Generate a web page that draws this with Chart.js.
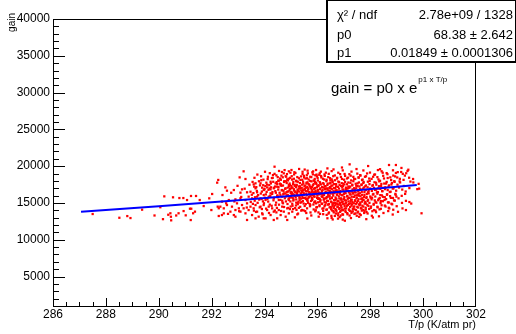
<!DOCTYPE html>
<html>
<head>
<meta charset="utf-8">
<script src="https://cdn.jsdelivr.net/npm/chart.js@4.4.1/dist/chart.umd.min.js"></script>
<style>
  body { margin: 0; background: #fff; }
  canvas { display: block; }
</style>
</head>
<body>
<canvas id="gainChart" width="516" height="334"></canvas>
<script>
// axis tick labels
const xTicks = [286, 288, 290, 292, 294, 296, 298, 300, 302];
const yTicks = [5000, 10000, 15000, 20000, 25000, 30000, 35000, 40000];

// fit result (stats box)
const statsLabels = ['χ² / ndf', 'p0', 'p1'];
const statsValues = ['2.78e+09 / 1328', '68.38 ± 2.642', '0.01849 ± 0.0001306'];

// fitted curve
const fitTp   = [287.06, 290.0, 293.0, 296.0, 299.76];
const fitGain = [13800, 14560, 15380, 16260, 17450];

const sparsePoints = [
  [287.50,13500],[288.51,12990],[288.81,13220],[288.93,12950],[289.37,14090],[289.84,13300],
  [290.06,14420],[290.16,12800],[290.21,15900],[290.36,13400],[290.44,13600],[290.46,13130],
  [290.47,12640],[290.54,15770],[290.66,13300],[290.75,13600],[290.78,15670],[290.93,15670],
  [290.94,13900],[291.02,13320],[291.07,15400],[291.18,14220],[291.21,12680],[291.22,15950],
  [291.23,14220],[291.30,13600],[291.37,13820],[291.41,15950],[291.55,15400],[291.70,14580],
  [291.91,15630],[291.99,14040],[292.02,16220],[292.21,17760],[292.25,18130],[292.23,14500],
  [292.27,14280],[292.27,13230]
];

const midPoints = [
  [294.38,19930],[293.21,19300],[294.92,19300],[293.06,18480],[293.28,18260],[294.73,19030],
  [294.64,18710],[294.82,18570],[294.86,18210],[294.54,18030],[294.42,17670],[294.23,17890],
  [294.10,17490],[293.85,17670],[293.66,17670],[293.59,17530],[292.52,17120],[292.84,16760],
  [292.58,16670],[293.15,16850],[293.09,16400],[293.34,16450],[293.47,16530],[293.66,16990],
  [293.72,16450],[293.91,17080],[293.97,16760],[294.10,17120],[294.23,16850],[294.35,16990],
  [294.48,17210],[294.61,17440],[294.67,16760],[294.80,16990],[294.86,16530],[294.92,17440],
  [292.39,15180],[292.65,15400],[292.90,15490],[293.09,15630],[293.28,15400],[293.40,15860],
  [293.53,15630],[293.72,15860],[293.85,15630],[293.97,16080],[294.04,15400],[294.16,15860],
  [294.23,16310],[294.35,15630],[294.48,15950],[294.54,15400],[294.67,15860],[294.73,16310],
  [294.86,16080],[294.92,15400],[292.33,14500],[292.46,14270],[292.58,14720],[292.71,13820],
  [292.77,14500],[292.84,13360],[292.90,14040],[292.96,14950],[293.03,14270],[293.09,13820],
  [293.15,14720],[293.21,14270],[293.28,13590],[293.34,14950],[293.40,14040],[293.47,14500],
  [293.53,13360],[293.59,14270],[293.66,14720],[293.72,13820],[293.78,13140],[293.85,14500],
  [293.91,13590],[293.97,14720],[294.04,12910],[294.10,14040],[294.16,14500],[294.23,13360],
  [294.29,14270],[294.35,13820],[294.42,14720],[294.48,12910],[294.54,14040],[294.61,13360],
  [294.67,14500],[294.73,13820],[294.80,13140],[294.86,14270],[294.92,13590],[292.39,13360],
  [292.46,13590],[292.90,13140],[293.34,12690],[293.66,12910],[293.97,12910],[294.35,12690],
  [294.86,12690],
  [292.41,16080],[292.55,14960],[292.62,13520],[292.74,16390],[292.86,15210],[292.98,17330],
  [293.04,13880],[293.12,15820],[293.25,16940],[293.33,14380],[293.43,17480],[293.48,15140],
  [293.52,16120],[293.56,14880],[293.61,17220],[293.63,15310],[293.68,13780],[293.71,16640],
  [293.74,15020],[293.79,17950],[293.82,14410],[293.86,16280],[293.89,15540],[293.93,13450],
  [293.95,17410],[293.98,14960],[293.99,16820],
  [294.01,15720],[294.03,17310],[294.06,14230],[294.08,16510],[294.12,18240],[294.14,15190],
  [294.17,13640],[294.19,16980],[294.21,15870],[294.24,17660],[294.27,14620],[294.29,16230],
  [294.32,18790],[294.34,15360],[294.37,17080],[294.39,13980],[294.41,16610],[294.44,15050],
  [294.46,17830],[294.47,14330],[294.49,16040],[294.50,18510],
  [294.51,15830],[294.53,17150],[294.55,14770],[294.57,16390],[294.59,18330],[294.60,15420],
  [294.62,17540],[294.63,13910],[294.65,16720],[294.66,19210],[294.68,15060],[294.70,17370],
  [294.71,16180],[294.74,14450],[294.75,17960],[294.77,15640],[294.78,16930],[294.80,18640],
  [294.81,15210],[294.83,16460],[294.84,17710],[294.87,14860],[294.88,16080],[294.89,18060],
  [294.91,15530],[294.93,17240],[294.94,16690],[294.96,14170],[294.97,18420],[294.99,16330],
  [293.55,17860],[293.58,16340],[293.62,18420],[293.64,15780],[293.69,17150],[293.73,18860],
  [293.76,16070],[293.80,15460],[293.83,17390],[293.87,18630],[293.90,16550],[293.94,15220],
  [293.96,18170],[294.00,16930],[294.02,19240],[294.05,16170],[294.07,17760],[294.11,15540],
  [294.13,18560],[294.15,16790],[294.18,17420],[294.20,19050],[294.22,15990],[294.25,17130],
  [294.28,18380],[294.30,16470],[294.33,17880],[294.36,15710],[294.38,18960],[294.40,17240],
  [294.43,16390],[294.45,18750],[294.48,17560],[294.50,15760],[294.52,16820],[294.55,19350],
  [294.58,17630],[294.60,16110],[294.62,18150],[294.64,17330],[294.67,15310],[294.69,18490],
  [294.72,16650],[294.74,17850],[294.76,19470],[294.79,16270],[294.81,17950],[294.83,15890],
  [294.85,18920],[294.88,17090],[294.90,16560],[294.92,18300],[294.94,15670],[294.96,17430],
  [294.98,19110],[293.60,13960],[293.90,14180],[294.20,14780],[294.45,13720],[294.70,14960],
  [294.90,14330]
];

const densePoints = [
  // 19500 - 20300
  [295.02,19480],[295.31,19620],[295.52,19540],[295.95,19480],[296.38,19700],[296.61,19560],
  [296.93,19820],[297.22,20250],[297.48,19610],[297.92,20020],[298.37,19590],[298.71,20160],
  [298.97,20160],[299.18,19760],[299.44,19520],
  // 18800 - 19500
  [295.17,19080],[295.44,18930],[295.63,19390],[295.81,19170],[296.09,19040],[296.27,18880],
  [296.54,19330],[296.79,19110],[297.03,18940],[297.29,19260],[297.51,18990],[297.74,19420],
  [297.99,19130],[298.18,18870],[298.43,19310],[298.62,19060],[298.86,19440],[299.04,19190],
  [299.23,18960],[299.41,19350],[296.96,19430],[295.97,18860],[298.29,19470],
  // 18000 - 18800
  [293.88,18090],[294.31,18410],[294.52,18030],[295.03,18640],[295.11,18290],[295.24,18520],
  [295.36,18140],[295.49,18690],[295.61,18360],[295.73,18560],[295.86,18060],[296.01,18410],
  [296.14,18660],[296.26,18190],[296.41,18510],[296.49,18090],[296.66,18740],[296.74,18310],
  [296.89,18540],[297.01,18160],[297.16,18440],[297.26,18710],[297.39,18240],[297.56,18490],
  [297.69,18110],[297.84,18630],[297.96,18320],[298.11,18560],[298.31,18210],[298.49,18690],
  [298.66,18390],[298.79,18120],[298.94,18610],[299.12,18280],[299.31,18720],[299.47,18430],
  [299.62,18260],[295.92,18770],[296.57,18020],[297.62,18780],
  // 17200 - 18000
  [294.95,17640],[295.02,17310],[295.09,17870],[295.14,17460],[295.21,17930],[295.29,17240],
  [295.34,17710],[295.42,17490],[295.46,17880],[295.54,17360],[295.59,17760],[295.67,17560],
  [295.72,17230],[295.78,17940],[295.83,17410],[295.91,17820],[295.96,17590],[296.04,17290],
  [296.09,17840],[296.13,17510],[296.22,17690],[296.28,17260],[296.34,17960],[296.38,17440],
  [296.47,17660],[296.53,17340],[296.58,17810],[296.63,17560],[296.71,17270],[296.79,17910],
  [296.84,17460],[296.92,17690],[296.97,17310],[297.05,17860],[297.12,17540],[297.17,17240],
  [297.25,17740],[297.32,17390],[297.36,17960],[297.45,17610],[297.52,17290],[297.57,17790],
  [297.67,17440],[297.74,17710],[297.81,17260],[297.91,17890],[297.97,17560],[298.08,17340],
  [298.16,17810],[298.23,17490],[298.34,17940],[298.41,17310],[298.53,17640],[298.62,17860],
  [298.71,17390],[298.82,17720],[298.91,17960],[299.03,17490],[299.13,17790],[299.27,17310],
  [299.52,17910],[299.83,17600],
  // 16400 - 17200
  [294.97,16920],[295.01,16510],[295.06,17080],[295.12,16690],[295.16,16440],[295.19,17150],
  [295.25,16830],[295.31,16560],[295.35,17010],[295.39,16720],[295.44,16460],[295.51,16940],
  [295.56,16620],[295.62,17180],[295.65,16810],[295.69,16480],[295.76,17050],[295.81,16690],
  [295.87,16930],[295.93,16530],[295.98,17120],[296.02,16760],[296.06,16420],[296.11,16980],
  [296.17,16640],[296.23,17090],[296.29,16870],[296.31,16510],[296.36,16990],[296.42,16700],
  [296.48,17160],[296.51,16460],[296.56,16860],[296.61,16590],[296.68,17040],[296.73,16730],
  [296.77,16420],[296.82,16950],[296.87,16610],[296.94,17130],[296.99,16800],[297.03,16490],
  [297.08,16920],[297.14,16660],[297.21,17070],[297.27,16540],[297.33,16850],[297.41,16470],
  [297.47,17000],[297.54,16690],[297.61,16930],[297.68,16520],[297.76,17110],[297.83,16780],
  [297.92,16450],[297.99,16960],[298.06,16640],[298.14,17060],[298.22,16800],[298.29,16480],
  [298.38,16910],[298.46,16600],[298.57,17140],[298.66,16750],[298.77,16530],[298.88,16990],
  [298.98,16670],[299.09,17100],[299.21,16820],[299.34,16560],[299.48,17020],[299.78,16880],
  // 15600 - 16400
  [294.96,15920],[295.03,16230],[295.07,15680],[295.13,16080],[295.18,15810],[295.23,16370],
  [295.27,15990],[295.32,15640],[295.38,16170],[295.43,15870],[295.49,16310],[295.55,15720],
  [295.60,16040],[295.64,15610],[295.70,16260],[295.74,15930],[295.79,15700],[295.85,16150],
  [295.89,15840],[295.94,16380],[296.00,15990],[296.05,15650],[296.12,16220],[296.16,15890],
  [296.20,16060],[296.25,15620],[296.30,16340],[296.35,15770],[296.41,16100],[296.45,15860],
  [296.50,16280],[296.55,15660],[296.60,16000],[296.65,16350],[296.69,15750],[296.75,16130],
  [296.81,15900],[296.86,16250],[296.90,15630],[296.95,16050],[297.02,15800],[297.07,16320],
  [297.13,15960],[297.19,15690],[297.23,16180],[297.30,15850],[297.35,16390],[297.42,16020],
  [297.49,15740],[297.55,16210],[297.63,15910],[297.70,15640],[297.78,16090],[297.86,15830],
  [297.94,16300],[298.02,15710],[298.10,16140],[298.19,15880],[298.27,16260],[298.36,15650],
  [298.44,16030],[298.55,15790],[298.64,16190],[298.75,15920],[298.86,15680],[298.96,16110],
  [299.07,15630],[299.19,15970],[299.32,16230],
  // 14800 - 15600
  [294.98,15210],[295.05,14890],[295.10,15480],[295.20,15050],[295.26,14830],[295.33,15370],
  [295.40,15130],[295.48,14920],[295.57,15540],[295.63,15260],[295.71,14860],[295.80,15400],
  [295.88,15080],[295.95,14950],[296.03,15560],[296.10,15190],[296.18,14870],[296.24,15450],
  [296.32,15040],[296.37,15300],[296.43,14840],[296.48,15580],[296.53,15120],[296.58,14910],
  [296.63,15390],[296.67,15010],[296.72,15520],[296.76,14810],[296.80,15240],[296.85,14970],
  [296.89,15460],[296.93,15100],[296.98,14850],[297.04,15350],[297.09,15030],[297.15,15570],
  [297.20,14890],[297.26,15210],[297.30,15440],[297.38,14960],[297.43,15280],[297.50,15060],
  [297.56,15500],[297.62,14840],[297.69,15180],[297.75,15420],[297.83,14930],[297.90,15260],
  [297.97,15020],[298.05,15490],[298.13,14880],[298.20,15150],[298.30,15370],[298.39,14980],
  [298.48,15240],[298.60,15530],[298.70,15070],[298.80,14900],[298.93,15320],[299.20,15010],
  [299.35,15290],[299.55,14920],
  // 14000 - 14800
  [294.99,14520],[295.08,14180],[295.19,14660],[295.30,14340],[295.42,14050],[295.52,14590],
  [295.61,14270],[295.73,14720],[295.86,14120],[295.98,14440],[296.08,14690],[296.19,14230],
  [296.27,14560],[296.34,14080],[296.40,14770],[296.46,14390],[296.52,14150],[296.57,14620],
  [296.62,14310],[296.68,14750],[296.71,14060],[296.76,14480],[296.83,14200],[296.88,14700],
  [296.92,14360],[296.97,14020],[297.03,14580],[297.08,14270],[297.14,14710],[297.19,14120],
  [297.24,14450],[297.29,14640],[297.34,14190],[297.40,14530],[297.46,14030],[297.53,14380],
  [297.60,14680],[297.67,14250],[297.74,14510],[297.83,14100],[297.93,14600],[298.02,14330],
  [298.14,14040],[298.27,14490],[298.40,14210],[298.55,14650],[298.70,14350],[298.87,14080],
  [299.00,14560],[299.22,14260],[299.35,14040],
  // 13200 - 14000
  [295.05,13820],[295.24,13450],[295.39,13960],[295.58,13640],[295.77,13300],[295.92,13870],
  [296.10,13520],[296.22,13930],[296.35,13380],[296.44,13710],[296.53,13250],[296.61,13890],
  [296.70,13560],[296.78,13330],[296.86,13790],[296.95,13470],[297.06,13930],[297.13,13620],
  [297.22,13290],[297.31,13840],[297.40,13510],[297.52,13700],[297.64,13360],[297.78,13880],
  [297.90,13570],[298.06,13260],[298.22,13750],[298.33,13190],[298.50,13640],[298.68,13900],
  [298.85,13430],[299.05,13800],[299.94,13600],
  // 12600 - 13200
  [295.15,13050],[295.62,12890],[296.05,13140],[296.38,12920],[296.58,12760],[296.84,13080],
  [297.04,12590],[297.27,12950],[297.58,13120],[297.85,12800],[298.10,13030]
];

const corePoints = [
  // 295.0 - 295.5
  [295.01,15760],[295.02,17020],[295.04,18180],[295.05,16400],[295.06,14620],[295.08,17580],
  [295.09,15330],[295.11,16870],[295.12,18880],[295.14,15950],[295.15,17330],[295.16,14310],
  [295.18,16560],[295.19,18020],[295.20,15480],[295.22,17460],[295.23,16230],[295.25,14970],
  [295.26,17890],[295.27,16640],[295.28,15170],[295.30,18360],[295.31,16950],[295.33,15820],
  [295.34,17270],[295.35,14480],[295.37,16310],[295.38,18610],[295.39,15590],[295.41,17060],
  [295.42,16490],[295.43,18150],[295.45,15260],[295.46,16740],[295.47,17620],[295.48,13990],
  [295.49,16120],[295.50,18470],[295.27,13560],[295.13,19180],[295.44,19240],[295.21,14060],
  [295.36,15030],[295.07,16180],[295.46,15690],
  // 295.5 - 296.0
  [295.51,17280],[295.52,15660],[295.53,16810],[295.55,18320],[295.56,14840],[295.57,17070],
  [295.58,16260],[295.60,18770],[295.61,15390],[295.62,16590],[295.63,17810],[295.65,15020],
  [295.66,16970],[295.67,18190],[295.68,15760],[295.70,17450],[295.71,16380],[295.72,14560],
  [295.73,17990],[295.75,16120],[295.76,15280],[295.77,18510],[295.78,16830],[295.80,17190],
  [295.81,15540],[295.82,16050],[295.83,18890],[295.85,14790],[295.86,17560],[295.87,16450],
  [295.88,15910],[295.90,18270],[295.91,17030],[295.92,15220],[295.93,16690],[295.95,17740],
  [295.96,14380],[295.97,16210],[295.98,18620],[295.99,15680],[296.00,17340],[295.54,13890],
  [295.64,19030],[295.74,13710],[295.84,19290],[295.94,14010],[295.69,15860],[295.79,16470],
  [295.59,17640],[295.89,17980],
  // 296.0 - 296.5
  [296.01,16540],[296.02,18060],[296.03,15090],[296.05,17410],[296.06,16170],[296.07,18830],
  [296.08,14560],[296.10,16880],[296.11,17720],[296.12,15370],[296.14,16320],[296.15,18470],
  [296.16,14930],[296.18,17150],[296.19,15810],[296.20,16740],[296.21,18290],[296.23,14270],
  [296.24,17540],[296.25,16080],[296.26,15490],[296.28,18680],[296.29,16960],[296.30,14720],
  [296.31,17290],[296.33,15640],[296.34,16430],[296.35,18150],[296.36,14110],[296.38,16820],
  [296.39,17630],[296.40,15260],[296.41,16270],[296.43,18960],[296.44,14850],[296.45,17030],
  [296.46,15970],[296.47,16640],[296.48,18380],[296.49,14460],[296.50,17760],[296.04,13720],
  [296.13,19260],[296.22,13480],[296.32,19120],[296.42,13560],[296.27,15110],[296.37,15820],
  [296.17,16290],[296.09,15530],
  // 296.5 - 297.0
  [296.51,15190],[296.52,16970],[296.53,14390],[296.54,18210],[296.55,15740],[296.56,13980],
  [296.57,17380],[296.58,14870],[296.59,16260],[296.60,18640],[296.61,15020],[296.62,13720],
  [296.63,17020],[296.64,14570],[296.65,16490],[296.66,15380],[296.67,18090],[296.68,14160],
  [296.69,16710],[296.70,15560],[296.71,17560],[296.72,13860],[296.73,14940],[296.74,16130],
  [296.75,18420],[296.76,15250],[296.77,14450],[296.78,17190],[296.79,13590],[296.80,16580],
  [296.81,14780],[296.82,17830],[296.83,15610],[296.84,14290],[296.85,16350],[296.86,18920],
  [296.87,15040],[296.88,13940],[296.89,17310],[296.90,14620],[296.91,16070],[296.92,15470],
  [296.93,18270],[296.94,14050],[296.95,16820],[296.96,15190],[296.97,13410],[296.98,17620],
  [296.99,14880],[297.00,16210],[296.54,12980],[296.66,13240],[296.78,12870],[296.88,13290],
  [296.96,12740],
  // 297.0 - 297.5
  [297.01,15560],[297.02,17520],[297.03,14230],[297.04,16380],[297.05,18680],[297.06,14910],
  [297.07,13770],[297.08,17090],[297.09,15330],[297.10,16710],[297.11,14560],[297.12,18330],
  [297.13,15880],[297.14,13460],[297.15,16990],[297.16,14740],[297.17,17780],[297.18,15210],
  [297.19,16440],[297.20,14080],[297.21,18910],[297.22,15690],[297.23,13920],[297.24,17230],
  [297.25,14950],[297.26,16160],[297.27,15440],[297.28,18070],[297.29,13640],[297.30,16620],
  [297.31,14820],[297.32,17480],[297.33,15110],[297.34,13850],[297.35,16270],[297.36,18550],
  [297.37,14470],[297.38,15830],[297.39,17010],[297.40,14150],[297.41,16880],[297.42,15360],
  [297.43,18270],[297.44,13580],[297.45,16430],[297.46,14890],[297.47,17340],[297.48,15620],
  [297.49,13260],[297.50,16050],
  // 297.5 - 298.0
  [297.51,14480],[297.52,17660],[297.53,15270],[297.54,13820],[297.55,16540],[297.56,18430],
  [297.57,14810],[297.58,15990],[297.59,17250],[297.60,13510],[297.61,16320],[297.62,15070],
  [297.63,18720],[297.64,14290],[297.65,16820],[297.66,15540],[297.67,17520],[297.68,13960],
  [297.69,16110],[297.70,14630],[297.71,18190],[297.72,15380],[297.73,16950],[297.74,14050],
  [297.75,17860],[297.76,15810],[297.77,13640],[297.78,16480],[297.79,14920],[297.80,18560],
  [297.81,15150],[297.82,16730],[297.83,14360],[297.84,17380],[297.85,15670],[297.86,13770],
  [297.87,16240],[297.88,19010],[297.89,14750],[297.90,17130],[297.92,15430],[297.94,16660],
  [297.96,14190],[297.98,17990],[298.00,15880],
  // 298.0 - 298.5
  [298.02,16910],[298.03,14520],[298.05,18270],[298.07,15710],[298.08,13880],[298.10,17420],
  [298.12,16230],[298.13,14760],[298.15,18840],[298.17,15360],[298.18,16780],[298.20,13960],
  [298.22,17750],[298.23,15030],[298.25,16450],[298.27,18510],[298.28,14400],[298.30,16960],
  [298.32,15560],[298.33,17280],[298.35,14130],[298.37,18020],[298.38,16070],[298.40,15260],
  [298.42,17590],[298.43,14690],[298.45,16620],[298.47,19110],[298.48,15840],[298.50,17060],
  // 298.5 - 299.0
  [298.52,18330],[298.54,15410],[298.56,16880],[298.58,14520],[298.60,17640],[298.63,16120],
  [298.65,18910],[298.67,15080],[298.69,17200],[298.72,14260],[298.74,16490],[298.76,18480],
  [298.78,15690],[298.80,17510],[298.83,14820],[298.85,16960],[298.87,18720],[298.90,15350],
  [298.92,17870],[298.95,16240],[298.97,19080],[298.99,15860],
  // 299.0 - 300.0
  [299.02,18470],[299.11,17930],[299.17,19210],[299.26,18140],[299.36,19040],[299.48,15130],
  [299.63,17790],[299.85,16950]
];

const FONT = '"Liberation Sans", Arial, Helvetica, sans-serif';
Chart.defaults.font.family = FONT;
Chart.defaults.color = '#000';

const allPoints = sparsePoints.concat(midPoints, densePoints, corePoints);

// ROOT style frame, inward ticks, titles, stats box
const rootFrame = {
  id: 'rootFrame',
  afterDraw(chart) {
    const ctx = chart.ctx;
    const a = chart.chartArea;
    const xs = chart.scales.x, ys = chart.scales.y;
    const L = Math.round(a.left), R = Math.round(a.right) - 1;
    const T = Math.round(a.top), B = Math.round(a.bottom);
    ctx.save();
    ctx.fillStyle = '#000';
    // frame
    ctx.fillRect(L, T, R - L + 1, 1);
    ctx.fillRect(L, B, R - L + 1, 1);
    ctx.fillRect(L, T, 1, B - T + 1);
    ctx.fillRect(R, T, 1, B - T + 1);
    // inward ticks: major every 2, minor every 0.5 on x; major 5000, minor 1000 on y
    for (let i = 0; i <= 32; i++) {
      const px = Math.min(Math.round(xs.getPixelForValue(286 + i * 0.5)), R);
      const len = (i % 4 === 0) ? 8 : 4;
      ctx.fillRect(px, B - len, 1, len);
    }
    for (let i = 2; i <= 40; i++) {
      const py = Math.round(ys.getPixelForValue(i * 1000));
      const len = (i % 5 === 0) ? 12 : 6;
      ctx.fillRect(L, py, len, 1);
    }

    // axis titles
    ctx.font = '11px ' + FONT;
    ctx.textAlign = 'right';
    ctx.textBaseline = 'middle';
    ctx.fillText('T/p (K/atm pr)', 476, 325);
    ctx.save();
    ctx.translate(12, 13);
    ctx.rotate(-Math.PI / 2);
    ctx.font = '10px ' + FONT;
    ctx.fillText('gain', 0, 0);
    ctx.restore();

    // stats box
    ctx.fillStyle = '#fff';
    ctx.fillRect(327, 0, 189, 62);
    ctx.fillStyle = '#000';
    ctx.fillRect(326, 0, 2, 63);
    ctx.fillRect(326, 61, 190, 2);
    ctx.fillRect(326, 0, 190, 1);
    ctx.fillRect(515, 0, 1, 63);
    ctx.font = '13px ' + FONT;
    const rowsY = [15, 35, 53];
    statsLabels.forEach((s, i) => {
      ctx.textAlign = 'left';
      ctx.fillText(s, 337, rowsY[i]);
      ctx.textAlign = 'right';
      ctx.fillText(statsValues[i], 513, rowsY[i]);
    });

    // fit formula
    ctx.textAlign = 'left';
    ctx.font = '15px ' + FONT;
    const base = 'gain = p0 x e';
    ctx.fillText(base, 331, 89);
    const w = ctx.measureText(base).width;
    ctx.font = '8px ' + FONT;
    ctx.fillText('p1 x T/p', 331 + w + 1, 80);
    ctx.restore();
  }
};

new Chart(document.getElementById('gainChart'), {
  type: 'scatter',
  data: {
    datasets: [
      {
        type: 'line',
        data: fitTp.map((t, i) => ({ x: t, y: fitGain[i] })),
        borderColor: '#0000ff',
        borderWidth: 2,
        pointRadius: 0,
        fill: false,
        tension: 0,
        order: 0
      },
      {
        data: allPoints.map(p => ({ x: p[0], y: p[1] })),
        backgroundColor: '#ff0000',
        borderWidth: 0,
        pointStyle: 'rect',
        pointRadius: 1.6,
        order: 1
      }
    ]
  },
  options: {
    responsive: false,
    animation: false,
    devicePixelRatio: 1,
    layout: { padding: { top: 19, right: 40, left: 0, bottom: 0 } },
    plugins: { legend: { display: false }, tooltip: { enabled: false } },
    scales: {
      x: {
        type: 'linear', min: 286, max: 302,
        afterBuildTicks: s => { s.ticks = xTicks.map(v => ({ value: v })); },
        afterFit: s => { s.height = 28; },
        grid: { display: false, drawTicks: false, tickLength: 0 },
        border: { display: false },
        ticks: { font: { size: 12 }, padding: 1, maxRotation: 0, autoSkip: false, callback: v => String(v) }
      },
      y: {
        type: 'linear', min: 1000, max: 40000,
        afterBuildTicks: s => { s.ticks = yTicks.map(v => ({ value: v })); },
        afterFit: s => { s.width = 53; },
        grid: { display: false, drawTicks: false, tickLength: 0 },
        border: { display: false },
        ticks: { font: { size: 12 }, padding: 3, autoSkip: false, callback: v => String(v) }
      }
    }
  },
  plugins: [rootFrame]
});
</script>
</body>
</html>
